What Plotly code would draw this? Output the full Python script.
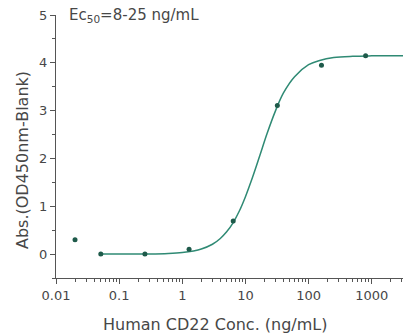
import plotly.graph_objects as go

# measured points
conc = [0.02, 0.0512, 0.256, 1.28, 6.4, 32, 160, 800]
absorb = [0.30, 0.0, 0.0, 0.10, 0.69, 3.11, 3.95, 4.15]

# fitted curve
curve_x = [0.0512, 0.1, 0.3, 0.6, 1, 1.5, 2, 3, 4, 5, 6.4, 8, 10, 13, 17, 22, 30, 40, 60, 100, 150, 250, 500, 1000, 3200]
curve_y = [0.0, 0.001, 0.004, 0.014, 0.033, 0.066, 0.106, 0.206, 0.327, 0.46, 0.66, 0.90, 1.20, 1.61, 2.07, 2.52, 3.0, 3.37, 3.71, 3.96, 4.05, 4.11, 4.137, 4.146, 4.15]

xtick_vals = [0.01, 0.1, 1, 10, 100, 1000]
xtick_text = ["0.01", "0.1", "1", "10", "100", "1000"]
ytick_vals = [0, 1, 2, 3, 4, 5]

x_title = "Human CD22 Conc. (ng/mL)"
y_title = "Abs.(OD450nm-Blank)"

font_family = "DejaVu Sans, sans-serif"
text_color = "#474747"
axis_color = "#555555"

fig = go.Figure()
fig.add_trace(go.Scatter(x=curve_x, y=curve_y, mode="lines", line=dict(color="#2f8a74", width=1.5, shape="spline"), hoverinfo="skip"))
fig.add_trace(go.Scatter(x=conc, y=absorb, mode="markers", marker=dict(color="#1e5a4a", size=5)))

fig.add_annotation(x=0, xref="paper", xanchor="left", xshift=11, y=5, yref="y", yanchor="middle",
                   text="Ec<sub>50</sub>=8-25 ng/mL", showarrow=False,
                   font=dict(family=font_family, size=15, color=text_color))
# axis titles (placed as in the reference, off-centre)
fig.add_annotation(x=0.4576, xref="paper", xanchor="center", y=-0.175, yref="paper", yanchor="middle",
                   text=x_title, showarrow=False,
                   font=dict(family=font_family, size=16, color=text_color))
fig.add_annotation(x=0, xref="paper", xshift=-33, xanchor="center", y=0.4487, yref="paper", yanchor="middle",
                   text=y_title, textangle=-90, showarrow=False,
                   font=dict(family=font_family, size=16, color=text_color))

fig.update_layout(
    width=403, height=333,
    margin=dict(l=56, r=0, t=15, b=55),
    plot_bgcolor="white", paper_bgcolor="white",
    showlegend=False,
    font=dict(family=font_family, size=13, color=text_color),
)
fig.update_xaxes(
    type="log", range=[-2, 3.495],
    tickvals=xtick_vals, ticktext=xtick_text,
    ticks="outside", ticklen=5, tickcolor=axis_color,
    minor=dict(ticks="outside", ticklen=3, tickcolor=axis_color, dtick="D1"),
    showline=True, linecolor=axis_color, linewidth=1.2,
    showgrid=False, zeroline=False,
)
fig.update_yaxes(
    range=[-0.5, 5],
    tickvals=ytick_vals,
    ticks="outside", ticklen=5, tickcolor=axis_color,
    minor=dict(ticks="outside", ticklen=3, tickcolor=axis_color, dtick=0.5),
    showline=True, linecolor=axis_color, linewidth=1.2,
    showgrid=False, zeroline=False,
)

fig.write_html("out.html")
